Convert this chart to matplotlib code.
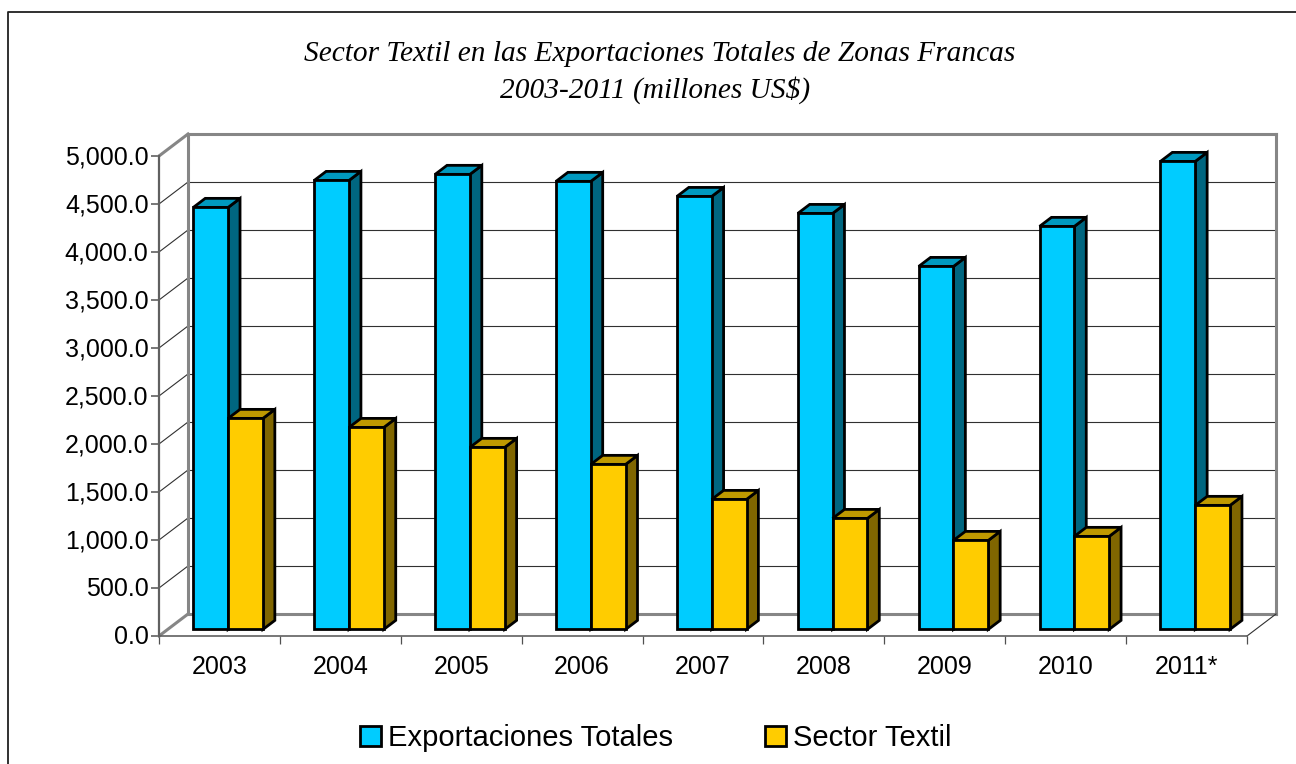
import matplotlib
matplotlib.use("Agg")
import matplotlib.pyplot as plt
from matplotlib.patches import Patch
from matplotlib.lines import Line2D
from matplotlib.transforms import ScaledTranslation

categories = ["2003", "2004", "2005", "2006", "2007", "2008", "2009", "2010", "2011*"]
exportaciones = [4396, 4677, 4740, 4667, 4510, 4333, 3781, 4198, 4875]
textil = [2198, 2104, 1896, 1719, 1354, 1156, 927, 969, 1292]
y_ticks = [0, 500, 1000, 1500, 2000, 2500, 3000, 3500, 4000, 4500, 5000]
series_names = ["Exportaciones Totales", "Sector Textil"]
title_line1 = "Sector Textil en las Exportaciones Totales de Zonas Francas"
title_line2 = "2003-2011 (millones US$)"

W, H = 1296, 764
fig = plt.figure(figsize=(W / 100, H / 100), dpi=100, facecolor="white")
plt.rcParams["font.family"] = ["Liberation Sans", "DejaVu Sans"]

def px_axes(x0, y0, x1, y1):
    return [x0 / W, 1 - y1 / H, (x1 - x0) / W, (y1 - y0) / H]

ax = fig.add_axes(px_axes(159, 156, 1247, 636))
ax.set_xlim(0, len(categories))
ax.set_ylim(0, 5000)
ax.patch.set_visible(False)
for s in ax.spines.values():
    s.set_visible(False)

# oblique projection of the 3-D box, in data units
DX = 29 / (1088 / len(categories))
DY = 22 / (480 / 5000)

def P(x, y, d):
    return x + d * DX, y + d * DY

def seg(a, b, **kw):
    pa, pb = P(*a), P(*b)
    ax.plot([pa[0], pb[0]], [pa[1], pb[1]], clip_on=False, solid_capstyle="projecting", **kw)

n = len(categories)
GRID = dict(color="#303030", lw=0.8, zorder=1)
WALL = dict(color="#868686", lw=2.2, zorder=2)
for v in y_ticks[1:-1]:
    seg((0, v, 0), (0, v, 1), **GRID)
    seg((0, v, 1), (n, v, 1), **GRID)
seg((0, 0, 1), (n, 0, 1), **WALL)
seg((0, 5000, 1), (n, 5000, 1), **WALL)
seg((0, 0, 1), (0, 5000, 1), **WALL)
seg((n, 0, 1), (n, 5000, 1), **WALL)
seg((0, 0, 0), (0, 0, 1), **WALL)
seg((0, 5000, 0), (0, 5000, 1), **WALL)
seg((n, 0, 0), (n, 0, 1), color="#303030", lw=0.8, zorder=2)
seg((0, 0, 0), (0, 5000, 0), color="#606060", lw=1.6, zorder=3)
seg((0, 0, 0), (n, 0, 0), color="#606060", lw=1.2, zorder=3)

D0, D1 = 0.30, 0.71
BW = 34.8 / (1088 / n)

def bar3d(x0, x1, v, front, top, side, z):
    style = dict(edgecolor="black", lw=2.0, joinstyle="miter", clip_on=False, zorder=z)
    pts = [P(x1, 0, D0), P(x1, 0, D1), P(x1, v, D1), P(x1, v, D0)]
    ax.fill(*zip(*pts), facecolor=side, **style)
    pts = [P(x0, v, D0), P(x1, v, D0), P(x1, v, D1), P(x0, v, D1)]
    ax.fill(*zip(*pts), facecolor=top, **style)
    pts = [P(x0, 0, D0), P(x1, 0, D0), P(x1, v, D0), P(x0, v, D0)]
    ax.fill(*zip(*pts), facecolor=front, **style)

for i in range(n):
    c = i + 0.5
    bar3d(c - BW, c, exportaciones[i], "#00CCFF", "#0099BF", "#006680", 5 + i * 0.01)
    bar3d(c, c + BW, textil[i], "#FFCC00", "#BF9900", "#806600", 5.005 + i * 0.01)

ax.set_xlim(0, n)
ax.set_ylim(0, 5000)

ax.set_yticks(y_ticks)
ax.set_yticklabels([f"{v:,.1f}" for v in y_ticks], fontsize=18, color="black")
ax.tick_params(axis="y", length=5.5, width=1.2, color="#606060", pad=2)
lift = ScaledTranslation(0, 1.5 / 100, fig.dpi_scale_trans)
for lab in ax.get_yticklabels():
    lab.set_transform(lab.get_transform() + lift)
ax.set_xticks(range(n + 1))
ax.set_xticklabels([])
ax.tick_params(axis="x", which="major", length=5.5, width=0.9, color="#505050")
ax.set_xticks([i + 0.5 for i in range(n)], minor=True)
ax.set_xticklabels(categories, minor=True, fontsize=18)
ax.tick_params(axis="x", which="minor", length=0, pad=14)

for text, cx, cy in [(title_line1, 660, 54), (title_line2, 655, 90)]:
    fig.text(cx / W, 1 - cy / H, text, ha="center", va="center", fontsize=21.2,
             family="Liberation Serif", style="italic")

handles = [Patch(facecolor="#00CCFF", edgecolor="black", lw=2),
           Patch(facecolor="#FFCC00", edgecolor="black", lw=2)]
fig.legend(handles, series_names, loc="center", bbox_to_anchor=(656 / W, 1 - 738 / H), ncol=2,
           frameon=False, fontsize=21, handlelength=0.7, handleheight=0.7,
           handletextpad=0.25, columnspacing=3.17)

# outer chart frame and the clipped caption above it
fig.add_artist(Line2D([8 / W, 8 / W, 1], [0, 1 - 12 / H, 1 - 12 / H], color="#202020", lw=1.3))
fig.text(17 / W, 1 + 6 / H, "Gráfica 10:", fontsize=17, fontweight="bold", color="#5A5AFF",
         ha="left", va="center")

fig.savefig("out.png", dpi=100)
